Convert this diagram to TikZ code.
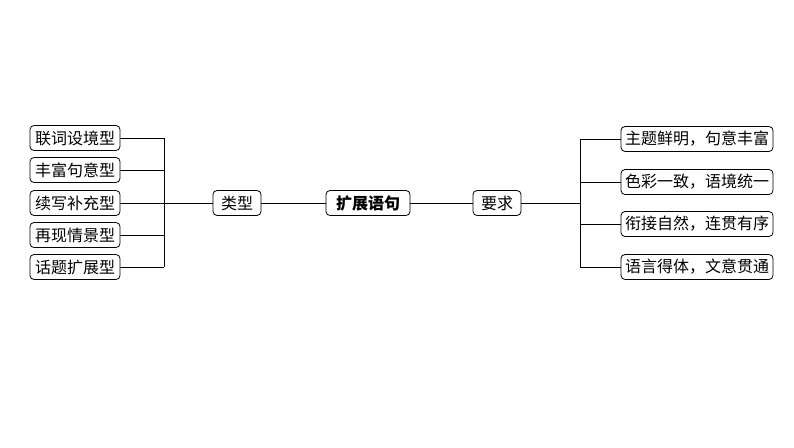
\documentclass[tikz,border=0pt]{standalone}
\usepackage{fontspec}
\setmainfont{Noto Sans CJK SC}
\tikzset{
  box/.style={draw, rounded corners=4pt, line width=0.8pt, fill=white,
    minimum height=25pt, inner xsep=3pt, font=\fontsize{16}{17}\selectfont},
  link/.style={line width=0.8pt}
}
\begin{document}
\begin{tikzpicture}[x=1pt,y=-1pt]
    \useasboundingbox (0,0) rectangle (794,447);
    % centre
    \node[box, font=\fontsize{16}{17}\selectfont\bfseries, minimum width=84pt] (main) at (368,203) {扩展语句};
    \node[box, minimum width=48pt] (type) at (237,203) {类型};
    \node[box, minimum width=48pt] (req) at (497,203) {要求};
    \coordinate (lj) at (164,203);
    \coordinate (rj) at (580,203);
    % left branch
    \foreach \i/\y/\t in {1/138/联词设境型, 2/170/丰富句意型, 3/203/续写补充型, 4/235/再现情景型, 5/267/话题扩展型} {
        \node[box, minimum width=90pt] (t\i) at (75,\y) {\t};
        \draw[link] (t\i.east) -- (t\i.east -| lj);
    }
    \draw[link] (t1.east -| lj) -- (t5.east -| lj);
    \draw[link] (lj) -- (type);
    % right branch
    \foreach \i/\y/\t in {1/139/主题鲜明，句意丰富, 2/182/色彩一致，语境统一, 3/224/衔接自然，连贯有序, 4/267/语言得体，文意贯通} {
        \node[box, minimum width=152pt] (r\i) at (697,\y) {\t};
        \draw[link] (r\i.west) -- (r\i.west -| rj);
    }
    \draw[link] (r1.west -| rj) -- (r4.west -| rj);
    \draw[link] (type) -- (main);
    \draw[link] (main) -- (req);
    \draw[link] (req) -- (rj);
\end{tikzpicture}
\end{document}
